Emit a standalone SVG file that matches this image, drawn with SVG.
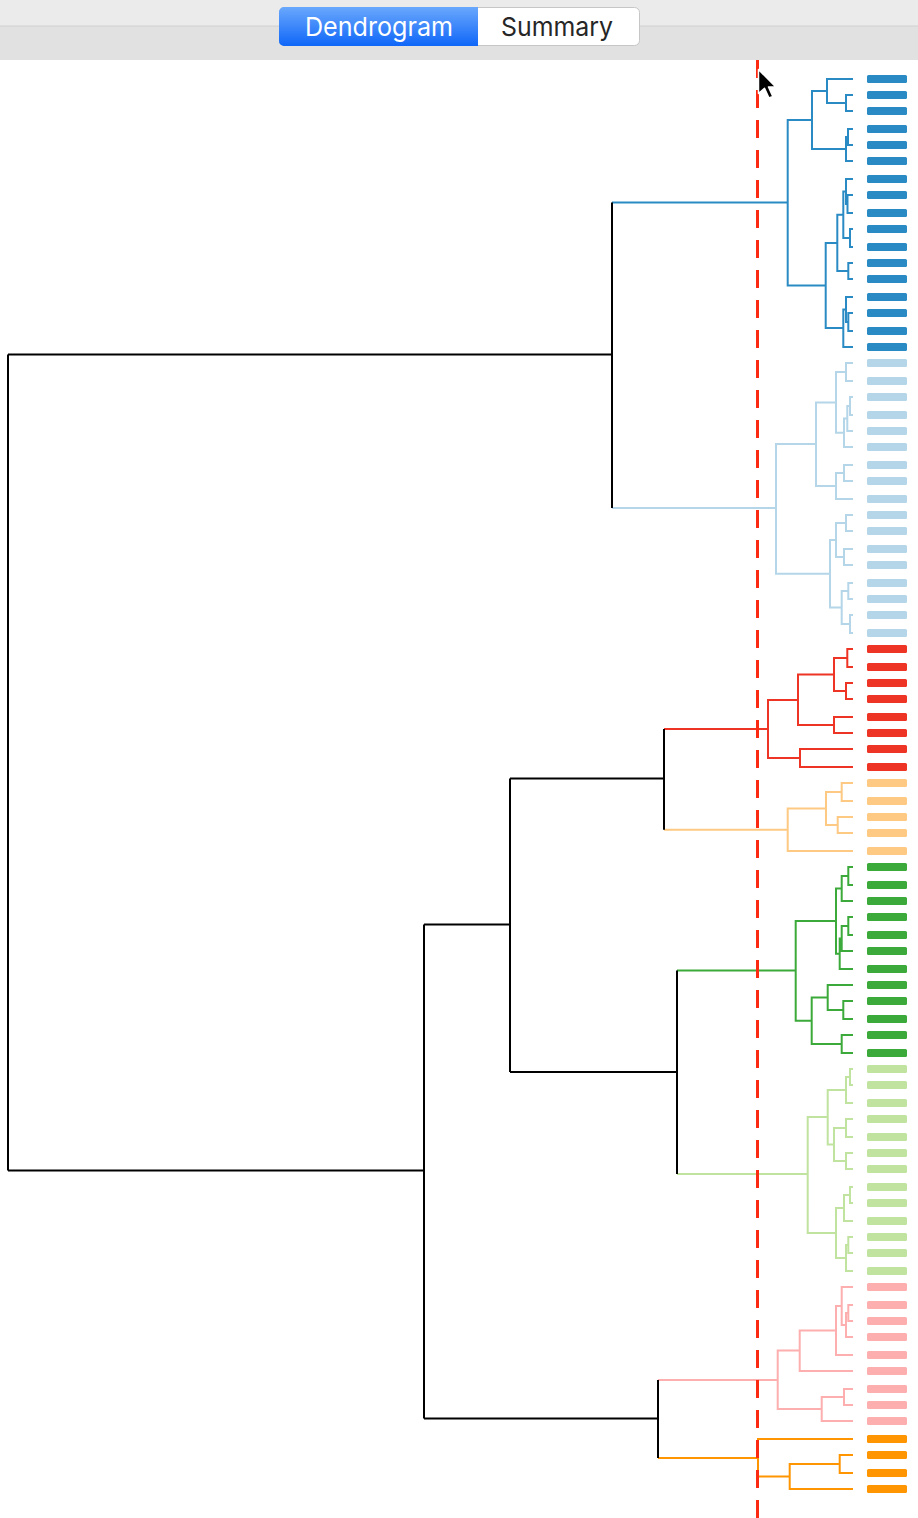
<svg xmlns="http://www.w3.org/2000/svg" width="918" height="1518" viewBox="0 0 918 1518">
<defs>
<linearGradient id="segBlue" x1="0" y1="0" x2="0" y2="1">
<stop offset="0" stop-color="#6aa8fd"/>
<stop offset="1" stop-color="#0f66f8"/>
</linearGradient>
<style>
.ln{fill:none;stroke-width:2;stroke-linejoin:miter;stroke-linecap:butt}
.k{stroke:#000}
.b{stroke:#2a8bc4}.lb{stroke:#b4d6e8}.r{stroke:#ee3424}.lo{stroke:#fec983}
.g{stroke:#3caa3a}.lg{stroke:#c1e3a0}.p{stroke:#fdaeae}.o{stroke:#ff9500}
.fb{fill:#2a8bc4}.flb{fill:#b4d6e8}.fr{fill:#ee3424}.flo{fill:#fec983}
.fg{fill:#3caa3a}.flg{fill:#c1e3a0}.fp{fill:#fdaeae}.fo{fill:#ff9500}
.lf rect{width:40px;height:8px}
.seg{font-family:Inter,"Liberation Sans",Arial,sans-serif;font-size:26px;text-anchor:middle}
</style>
</defs>
<rect x="0" y="0" width="918" height="1518" fill="#ffffff"/>
<g id="toolbar">
<rect x="0" y="0" width="918" height="26" fill="#ebebeb"/>
<rect x="0" y="26" width="918" height="34" fill="#e1e1e1"/>
<line x1="0" y1="26" x2="918" y2="26" stroke="#d0d0d0" stroke-width="1"/>
<rect x="279.5" y="7.5" width="360" height="38" rx="5" fill="#ffffff" stroke="#c6c6c6" stroke-width="1"/>
<path d="M478 7 H284.5 A5 5 0 0 0 279 12.5 V40.5 A5 5 0 0 0 284.5 46 H478 Z" fill="url(#segBlue)"/>
<text class="seg" x="379" y="36" fill="#ffffff" textLength="148" lengthAdjust="spacingAndGlyphs">Dendrogram</text>
<text class="seg" x="557" y="36" fill="#262626" textLength="112" lengthAdjust="spacingAndGlyphs">Summary</text>
</g>
<g id="connectors">
<!-- blue -->
<path class="ln b" d="M853 95 H846 V111 H853 M853 79 H827 V103 H846 M853 129 H848 V145 H853 M848 137 H846 V161 H853 M827 91 H812 V149 H846 M853 195 H847.5 V213 H853 M853 179 H846 V204 H847.5 M853 229 H850 V247 H853 M846 191.5 H843.3 V238 H850 M853 263 H848.3 V279 H853 M843.3 214.75 H837.3 V271 H848.3 M853 313 H848.3 V331 H853 M853 297 H846 V322 H848.3 M846 309.5 H843.3 V347 H853 M837.3 243 H825.7 V328 H843.3 M812 120 H787.7 V285.5 H825.7 M787.7 202.5 H612"/>
<!-- light blue -->
<path class="ln lb" d="M853 363 H846 V381 H853 M853 397 H850 V415 H853 M850 406 H847.3 V431 H853 M847.3 418.5 H844 V447 H853 M846 372 H836 V432.75 H844 M853 465 H844 V481 H853 M844 473 H836 V499 H853 M836 402.4 H816 V486 H836 M853 515 H846 V531 H853 M853 549 H844 V565 H853 M846 523 H836 V557 H844 M853 583 H848.3 V599 H853 M853 615 H850 V633 H853 M848.3 591 H841.7 V624 H850 M836 540 H830 V607.5 H841.7 M816 444 H776 V573.75 H830 M776 508 H612"/>
<!-- red -->
<path class="ln r" d="M853 649 H847.3 V667 H853 M853 683 H846 V699 H853 M847.3 658 H834 V691 H846 M853 717 H834 V733 H853 M834 674.5 H798 V725 H834 M853 749 H800 V767 H853 M798 700 H768 V758 H800 M768 729 H664"/>
<!-- light orange -->
<path class="ln lo" d="M853 783 H841.7 V801 H853 M853 817 H837.7 V833 H853 M841.7 792 H826 V825 H837.7 M826 808.5 H787.7 V851 H853 M787.7 829.75 H664"/>
<!-- green -->
<path class="ln g" d="M853 867 H848.3 V885 H853 M848.3 876 H841.7 V901 H853 M853 917 H848.3 V935 H853 M848.3 926 H841.7 V951 H853 M841.7 938.5 H839.7 V969 H853 M841.7 888.5 H836 V953.75 H839.7 M853 1001 H843.3 V1019 H853 M853 985 H827.7 V1010 H843.3 M853 1035 H841.7 V1053 H853 M827.7 997.5 H811.7 V1044 H841.7 M836 921 H795.7 V1020.75 H811.7 M795.7 970.5 H677"/>
<!-- light green -->
<path class="ln lg" d="M853 1069 H850 V1085 H853 M850 1077 H846 V1103 H853 M853 1119 H846 V1137 H853 M853 1153 H846 V1169 H853 M846 1128 H834 V1161 H846 M846 1090 H827.7 V1144.5 H834 M853 1187 H850 V1203 H853 M850 1195 H844 V1221 H853 M853 1237 H848.3 V1253 H853 M848.3 1245 H846 V1271 H853 M844 1208 H836 V1258 H846 M827.7 1117 H807.7 V1233 H836 M807.7 1174 H677"/>
<!-- pink -->
<path class="ln p" d="M853 1305 H848.3 V1321 H853 M848.3 1313 H846 V1337 H853 M853 1287 H841.7 V1325 H846 M841.7 1306 H836 V1355 H853 M836 1330.5 H799.7 V1371 H853 M853 1389 H844 V1405 H853 M844 1397 H821.7 V1421 H853 M799.7 1350.5 H777.7 V1409 H821.7 M777.7 1380 H658"/>
<!-- orange -->
<path class="ln o" d="M853 1455 H839.7 V1473 H853 M839.7 1464 H789.7 V1489 H853 M853 1439 H758 V1476.5 H789.7 M758 1458 H658"/>
<!-- black upper links -->
<path class="ln k" d="M612 202.5 V508 M612 354.5 H8 M664 729 V829.75 M664 778.5 H510 M677 970.5 V1174 M677 1072 H510 M510 778.5 V1072 M510 924.5 H424 M658 1380 V1458 M658 1418.5 H424 M424 924.5 V1418.5 M424 1170.5 H8 M8 354.5 V1170.5"/>
</g>
<g id="leaves" class="lf">
<g id="cluster-blue" class="fb">
<rect id="leaf-0" x="867" y="75" rx="1.5"/><rect id="leaf-1" x="867" y="91" rx="1.5"/><rect id="leaf-2" x="867" y="107" rx="1.5"/><rect id="leaf-3" x="867" y="125" rx="1.5"/><rect id="leaf-4" x="867" y="141" rx="1.5"/><rect id="leaf-5" x="867" y="157" rx="1.5"/><rect id="leaf-6" x="867" y="175" rx="1.5"/><rect id="leaf-7" x="867" y="191" rx="1.5"/><rect id="leaf-8" x="867" y="209" rx="1.5"/><rect id="leaf-9" x="867" y="225" rx="1.5"/><rect id="leaf-10" x="867" y="243" rx="1.5"/><rect id="leaf-11" x="867" y="259" rx="1.5"/><rect id="leaf-12" x="867" y="275" rx="1.5"/><rect id="leaf-13" x="867" y="293" rx="1.5"/><rect id="leaf-14" x="867" y="309" rx="1.5"/><rect id="leaf-15" x="867" y="327" rx="1.5"/><rect id="leaf-16" x="867" y="343" rx="1.5"/>
</g>
<g id="cluster-lightblue" class="flb">
<rect id="leaf-17" x="867" y="359" rx="1.5"/><rect id="leaf-18" x="867" y="377" rx="1.5"/><rect id="leaf-19" x="867" y="393" rx="1.5"/><rect id="leaf-20" x="867" y="411" rx="1.5"/><rect id="leaf-21" x="867" y="427" rx="1.5"/><rect id="leaf-22" x="867" y="443" rx="1.5"/><rect id="leaf-23" x="867" y="461" rx="1.5"/><rect id="leaf-24" x="867" y="477" rx="1.5"/><rect id="leaf-25" x="867" y="495" rx="1.5"/><rect id="leaf-26" x="867" y="511" rx="1.5"/><rect id="leaf-27" x="867" y="527" rx="1.5"/><rect id="leaf-28" x="867" y="545" rx="1.5"/><rect id="leaf-29" x="867" y="561" rx="1.5"/><rect id="leaf-30" x="867" y="579" rx="1.5"/><rect id="leaf-31" x="867" y="595" rx="1.5"/><rect id="leaf-32" x="867" y="611" rx="1.5"/><rect id="leaf-33" x="867" y="629" rx="1.5"/>
</g>
<g id="cluster-red" class="fr">
<rect id="leaf-34" x="867" y="645" rx="1.5"/><rect id="leaf-35" x="867" y="663" rx="1.5"/><rect id="leaf-36" x="867" y="679" rx="1.5"/><rect id="leaf-37" x="867" y="695" rx="1.5"/><rect id="leaf-38" x="867" y="713" rx="1.5"/><rect id="leaf-39" x="867" y="729" rx="1.5"/><rect id="leaf-40" x="867" y="745" rx="1.5"/><rect id="leaf-41" x="867" y="763" rx="1.5"/>
</g>
<g id="cluster-lightorange" class="flo">
<rect id="leaf-42" x="867" y="779" rx="1.5"/><rect id="leaf-43" x="867" y="797" rx="1.5"/><rect id="leaf-44" x="867" y="813" rx="1.5"/><rect id="leaf-45" x="867" y="829" rx="1.5"/><rect id="leaf-46" x="867" y="847" rx="1.5"/>
</g>
<g id="cluster-green" class="fg">
<rect id="leaf-47" x="867" y="863" rx="1.5"/><rect id="leaf-48" x="867" y="881" rx="1.5"/><rect id="leaf-49" x="867" y="897" rx="1.5"/><rect id="leaf-50" x="867" y="913" rx="1.5"/><rect id="leaf-51" x="867" y="931" rx="1.5"/><rect id="leaf-52" x="867" y="947" rx="1.5"/><rect id="leaf-53" x="867" y="965" rx="1.5"/><rect id="leaf-54" x="867" y="981" rx="1.5"/><rect id="leaf-55" x="867" y="997" rx="1.5"/><rect id="leaf-56" x="867" y="1015" rx="1.5"/><rect id="leaf-57" x="867" y="1031" rx="1.5"/><rect id="leaf-58" x="867" y="1049" rx="1.5"/>
</g>
<g id="cluster-lightgreen" class="flg">
<rect id="leaf-59" x="867" y="1065" rx="1.5"/><rect id="leaf-60" x="867" y="1081" rx="1.5"/><rect id="leaf-61" x="867" y="1099" rx="1.5"/><rect id="leaf-62" x="867" y="1115" rx="1.5"/><rect id="leaf-63" x="867" y="1133" rx="1.5"/><rect id="leaf-64" x="867" y="1149" rx="1.5"/><rect id="leaf-65" x="867" y="1165" rx="1.5"/><rect id="leaf-66" x="867" y="1183" rx="1.5"/><rect id="leaf-67" x="867" y="1199" rx="1.5"/><rect id="leaf-68" x="867" y="1217" rx="1.5"/><rect id="leaf-69" x="867" y="1233" rx="1.5"/><rect id="leaf-70" x="867" y="1249" rx="1.5"/><rect id="leaf-71" x="867" y="1267" rx="1.5"/>
</g>
<g id="cluster-pink" class="fp">
<rect id="leaf-72" x="867" y="1283" rx="1.5"/><rect id="leaf-73" x="867" y="1301" rx="1.5"/><rect id="leaf-74" x="867" y="1317" rx="1.5"/><rect id="leaf-75" x="867" y="1333" rx="1.5"/><rect id="leaf-76" x="867" y="1351" rx="1.5"/><rect id="leaf-77" x="867" y="1367" rx="1.5"/><rect id="leaf-78" x="867" y="1385" rx="1.5"/><rect id="leaf-79" x="867" y="1401" rx="1.5"/><rect id="leaf-80" x="867" y="1417" rx="1.5"/>
</g>
<g id="cluster-orange" class="fo">
<rect id="leaf-81" x="867" y="1435" rx="1.5"/><rect id="leaf-82" x="867" y="1451" rx="1.5"/><rect id="leaf-83" x="867" y="1469" rx="1.5"/><rect id="leaf-84" x="867" y="1485" rx="1.5"/>
</g>
</g>
<g id="cut-line">
<line x1="757.5" y1="60" x2="757.5" y2="1518" stroke="#fb2a10" stroke-width="3" stroke-dasharray="18 12"/>
</g>
<g id="cursor" transform="translate(758.5 69.5)">
<path d="M0 0 V24 L6 18.8 L10.5 28.5 L14.3 27 L10 17.5 H17.3 Z" fill="#000000" stroke="#ffffff" stroke-width="1.5" stroke-linejoin="round"/>
</g>
</svg>
